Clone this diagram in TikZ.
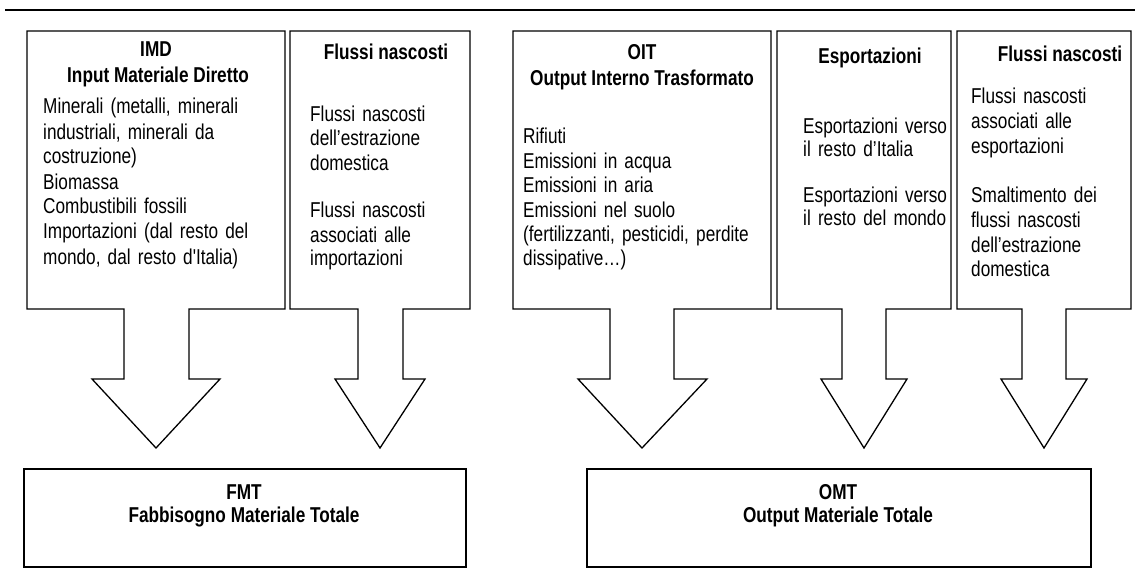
\documentclass[tikz,border=0pt]{standalone}
\usepackage{fontspec}
\setmainfont{Liberation Sans}[FakeStretch=0.80,Ligatures=TeXOff]
\tikzset{
  callout/.style={draw, line width=1.3pt, line join=miter},
  total/.style={draw, line width=2pt, anchor=north west, inner sep=0pt},
  ttl/.style={font=\fontsize{21.5}{24.5}\selectfont\bfseries, anchor=base, inner sep=0pt},
  body/.style={anchor=base west, inner sep=0pt, align=left, text width=#1},
  rule/.style={line width=2.2pt}
}
\newcommand\mycallout[7]{%
  \draw[callout] (#1,31) -- (#2,31) -- (#2,309) -- (#4,309) -- (#4,379) -- (#6,379)
    -- (#7,448) -- (#5,379) -- (#3,379) -- (#3,309) -- (#1,309) -- cycle;}
\begin{document}
\begin{tikzpicture}[x=1pt,y=-1pt,font=\fontsize{21.5}{24.5}\selectfont]
\useasboundingbox (0,0) rectangle (1135,583);
\coordinate (ruleL) at (5,10);
\coordinate (ruleR) at (1135,10);
\draw[rule] (ruleL) -- (ruleR);

% callout shapes
\mycallout{27}{285}{124}{189}{92}{220}{156}
\mycallout{290}{470}{358}{403}{335}{425}{380}
\mycallout{513}{771}{610}{674}{578}{707}{642}
\mycallout{777}{951}{842}{886}{821}{907}{864}
\mycallout{957}{1131}{1022}{1066}{1001}{1087}{1044}

% box 1
\node[ttl] (imd) at (156,57) {IMD};
\node[ttl] (imdt) at (158,83) {Input Materiale Diretto};
\node[body=235pt,font=\fontsize{21.5}{25}\selectfont] (imdb) at (43,114) {Minerali (metalli, minerali\\industriali, minerali da\\costruzione)\\Biomassa\\Combustibili fossili\\Importazioni (dal resto del\\mondo, dal resto d'Italia)};

% box 2
\node[ttl] (fn1) at (386,60) {Flussi nascosti};
\node[body=155pt,font=\fontsize{21.5}{24}\selectfont] (fn1b) at (310,122) {Flussi nascosti\\dell’estrazione\\domestica\\[24pt]Flussi nascosti\\associati alle\\importazioni};

% box 3
\node[ttl] (oit) at (642,60) {OIT};
\node[ttl] (oitt) at (642,86) {Output Interno Trasformato};
\node[body=240pt,font=\fontsize{21.5}{24.4}\selectfont] (oitb) at (523,144) {Rifiuti\\Emissioni in acqua\\Emissioni in aria\\Emissioni nel suolo\\(fertilizzanti, pesticidi, perdite\\dissipative…)};

% box 4
\node[ttl] (esp) at (870,64) {Esportazioni};
\node[body=170pt,font=\fontsize{21.5}{23}\selectfont] (espb) at (803,134) {Esportazioni verso\\il resto d’Italia\\[23pt]Esportazioni verso\\il resto del mondo};

% box 5
\node[ttl] (fn2) at (1060,62) {Flussi nascosti};
\node[body=160pt,font=\fontsize{21.5}{24.7}\selectfont] (fn2b) at (971,104) {Flussi nascosti\\associati alle\\esportazioni\\[24.7pt]Smaltimento dei\\flussi nascosti\\dell’estrazione\\domestica};

% totals
\node[total, minimum width=442pt, minimum height=98pt] (fmt) at (23,468) {};
\node[ttl] (fmtt) at (244,499) {FMT};
\node[ttl] (fmtn) at (244,522) {Fabbisogno Materiale Totale};
\node[total, minimum width=504pt, minimum height=98pt] (omt) at (586,468) {};
\node[ttl] (omtt) at (838,499) {OMT};
\node[ttl] (omtn) at (838,522) {Output Materiale Totale};
\end{tikzpicture}
\end{document}
